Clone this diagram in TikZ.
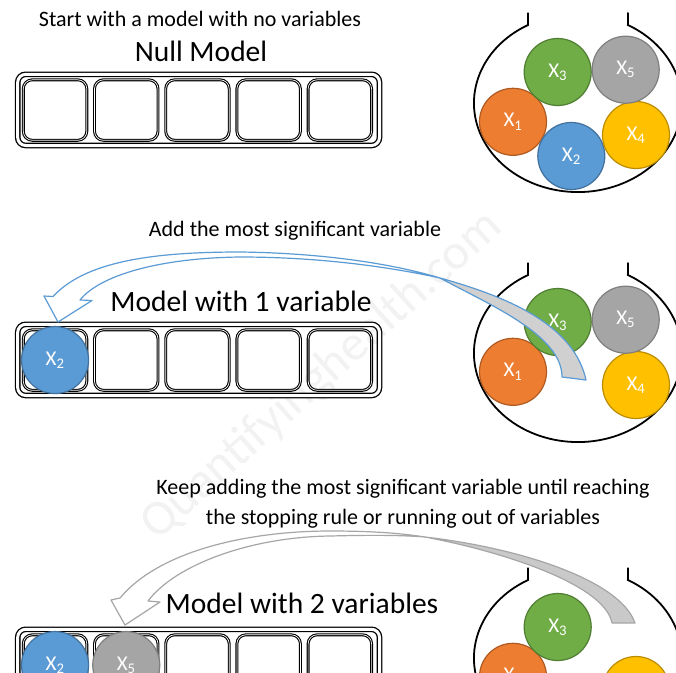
\documentclass[tikz,border=0pt]{standalone}
\usepackage{fontspec}
\setmainfont{Carlito}
\definecolor{orF}{HTML}{ED7D31}\definecolor{orL}{HTML}{AE5A21}
\definecolor{blF}{HTML}{5B9BD5}\definecolor{blL}{HTML}{41719C}
\definecolor{grF}{HTML}{70AD47}\definecolor{grL}{HTML}{507E32}
\definecolor{gyF}{HTML}{A5A5A5}\definecolor{gyL}{HTML}{7F7F7F}
\definecolor{yeF}{HTML}{FFC000}\definecolor{yeL}{HTML}{BC8C00}
\definecolor{arrBlue}{HTML}{5B9BD5}
\definecolor{arrBack}{HTML}{D0D0D0}
\definecolor{arrGray}{HTML}{A6A6A6}
\definecolor{arrGrayBack}{HTML}{C9C9C9}
\tikzset{
  bodytext/.style={font=\fontsize{22}{26}\selectfont, anchor=base, inner sep=0pt},
  titletext/.style={font=\fontsize{29.5}{34}\selectfont, anchor=base, inner sep=0pt},
  outerbox/.style={draw=black, double=white, double distance=3pt, line width=1.3pt, rounded corners=8pt},
  cellbox/.style={draw=black, double=white, double distance=0.7pt, line width=1.1pt, rounded corners=9pt},
  ballnode/.style={circle, minimum size=67pt, inner sep=0pt, line width=1.2pt, text=white, font=\fontsize{21}{22}\selectfont},
  jarline/.style={line width=1.8pt},
  arrowblue/.style={draw=arrBlue, line width=1.2pt, line join=round},
  arrowgray/.style={draw=arrGray, line width=1.2pt, line join=round},
}
\newcommand\myball[4]{\node[ballnode, fill=#4F, draw=#4L] (#1) at (#2) {X\textsubscript{#3}};}
\newcommand\mymodel{%
  \draw[outerbox] (17.7,74.3) rectangle (379.5,145.5);
  \foreach \i in {0,...,4} \draw[cellbox] ({23.3+71.2*\i},79.8) rectangle ++(63.5,60.5);
}
\newcommand\myjar{%
  \draw[jarline] (528,12.5) -- (528,25) arc[start angle=241.3, end angle=-61.3, x radius=104, y radius=89] -- (628,12.5);
}
\begin{document}
\begin{tikzpicture}[x=1pt,y=-1pt]
\useasboundingbox (0,0) rectangle (676,672);
\clip (0,0) rectangle (676,672);
\fill[white] (0,0) rectangle (676,672);
% watermark
\node[rotate=42, text=black!5, font=\fontsize{50}{50}\selectfont, inner sep=0pt] (wm) at (322,376) {Quantifyinghealth.com};

% ---------- panel 1
\node[bodytext] (t1) at (200,26.5) {Start with a model with no variables};
\node[titletext] (h1) at (201,61.5) {Null Model};
\mymodel
\myjar
\myball{a1}{513,121.8}{1}{or}
\myball{a2}{571.3,156}{2}{bl}
\myball{a3}{557.7,72}{3}{gr}
\myball{a4}{636,135}{4}{ye}
\myball{a5}{625.7,69.7}{5}{gy}

% ---------- panel 2
\node[bodytext] (t2) at (295,236.5) {Add the most significant variable};
\node[titletext] (h2) at (241,311.5) {Model with 1 variable};
\begin{scope}[shift={(0,250)}]
  \mymodel
  \myjar
  \myball{b1}{513,121.8}{1}{or}
  \myball{b3}{557.7,72}{3}{gr}
  \myball{b4}{636,135}{4}{ye}
  \myball{b5}{625.7,69.7}{5}{gy}
  \myball{m2}{55.05,110.05}{2}{bl}
\end{scope}
% arrow 2
\draw[arrowblue, fill=white] (53,296.5) .. controls (85,262) and (150,252) .. (240,252)
   .. controls (320,253) and (390,263) .. (440,278)
   .. controls (390,267) and (320,257) .. (240,257)
   .. controls (160,258) and (100,275) .. (80,300)
   -- (92,300.5) -- (58,322) -- (44,296) -- cycle;
\draw[arrowblue, fill=arrBack] (440,278) .. controls (520,300) and (575,330) .. (586,380)
   -- (562,377) .. controls (562,335) and (490,305) .. (440,278) -- cycle;

% ---------- panel 3
\node[bodytext] (t3a) at (403,494) {Keep adding the most significant variable until reaching};
\node[bodytext] (t3b) at (403,524) {the stopping rule or running out of variables};
\node[titletext] (h3) at (302,613) {Model with 2 variables};
\begin{scope}[shift={(0,555)}]
  \mymodel
  \myjar
  \myball{c1}{513,121.8}{1}{or}
  \myball{c3}{557.7,72}{3}{gr}
  \myball{c4}{636,135}{4}{ye}
  \myball{n2}{55.05,110.05}{2}{bl}
  \myball{n5}{126.25,110.05}{5}{gy}
\end{scope}
% arrow 3
\draw[arrowgray, fill=white] (120,598) .. controls (160,550) and (250,531) .. (330,531)
   .. controls (370,531) and (400,533) .. (425,537)
   .. controls (400,535) and (370,535) .. (330,536)
   .. controls (250,537) and (175,565) .. (148,601)
   -- (160,602) -- (125,625) -- (111,600) -- cycle;
\draw[arrowgray, fill=arrGrayBack] (425,537) .. controls (520,548) and (620,580) .. (635,623)
   -- (612,623) .. controls (605,585) and (505,552) .. (425,537) -- cycle;
\end{tikzpicture}
\end{document}
